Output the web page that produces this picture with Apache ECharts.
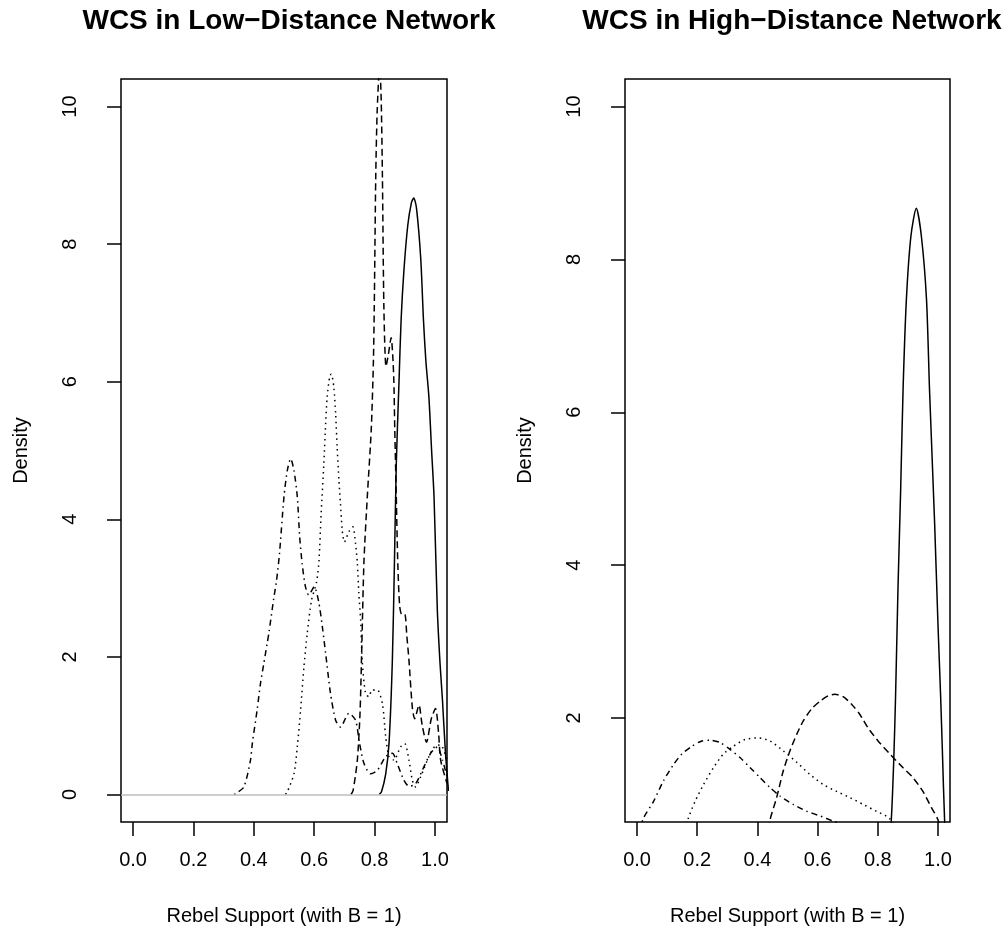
<!DOCTYPE html>
<html>
<head>
<meta charset="utf-8">
<script src="https://cdn.jsdelivr.net/npm/echarts@6/dist/echarts.min.js"></script>
<style>
html,body{margin:0;padding:0;background:#fff;}
#c{width:1003px;height:942px;}
</style>
</head>
<body>
<div id="c"></div>
<script>
// ---- data (x = rebel support, y = density) ----
const titles = ['WCS in Low\u2212Distance Network', 'WCS in High\u2212Distance Network'];
const xTicks = [0, 0.2, 0.4, 0.6, 0.8, 1.0];
const yTicksLow = [0, 2, 4, 6, 8, 10];
const yTicksHigh = [2, 4, 6, 8, 10];

const lowSolid = [[0.815,0],[0.823,0.04],[0.837,0.3],[0.848,0.75],[0.859,1.95],[0.866,3.4],[0.872,4.81],[0.881,6.0],[0.888,6.9],[0.897,7.6],[0.91,8.27],[0.922,8.6],[0.93,8.67],[0.939,8.52],[0.953,7.79],[0.962,6.9],[0.97,6.3],[0.98,5.78],[0.989,5.0],[0.997,4.33],[1.008,2.68],[1.017,1.9],[1.025,1.37],[1.035,0.6],[1.045,0.05]];
const lowDashed = [[0.722,0],[0.729,0.06],[0.743,0.5],[0.752,1.2],[0.758,2.2],[0.765,3.4],[0.776,4.33],[0.789,5.3],[0.796,6.26],[0.799,7.06],[0.804,9.0],[0.809,9.97],[0.817,10.6],[0.822,10.1],[0.826,9.0],[0.831,7.06],[0.838,6.22],[0.846,6.4],[0.855,6.64],[0.86,6.4],[0.864,6.0],[0.867,5.3],[0.872,4.33],[0.877,3.36],[0.883,2.75],[0.89,2.62],[0.9,2.62],[0.907,2.3],[0.914,1.95],[0.925,1.27],[0.933,1.1],[0.947,1.3],[0.958,1.0],[0.972,0.76],[0.988,1.1],[1.002,1.25],[1.012,0.9],[1.019,0.5],[1.04,0.16]];
const lowDotted = [[0.505,0],[0.511,0.04],[0.533,0.3],[0.544,0.69],[0.555,1.23],[0.566,1.85],[0.577,2.34],[0.591,2.82],[0.608,3.09],[0.616,3.41],[0.623,4.08],[0.632,4.81],[0.638,5.39],[0.643,5.78],[0.652,6.09],[0.657,6.11],[0.665,5.92],[0.671,5.54],[0.676,5.05],[0.682,4.57],[0.687,4.23],[0.693,3.84],[0.70,3.67],[0.715,3.82],[0.728,3.89],[0.737,3.65],[0.743,3.36],[0.748,2.92],[0.754,2.53],[0.759,1.95],[0.77,1.47],[0.781,1.42],[0.792,1.52],[0.809,1.52],[0.826,1.32],[0.837,0.84],[0.848,0.55],[0.864,0.5],[0.886,0.69],[0.9,0.74],[0.914,0.5],[0.925,0.21],[0.936,0.11],[0.953,0.26],[0.98,0.55],[1.0,0.7],[1.019,0.72],[1.04,0.5]];
const lowDotDash = [[0.335,0],[0.339,0.01],[0.367,0.11],[0.389,0.5],[0.395,0.74],[0.411,1.23],[0.422,1.61],[0.433,1.9],[0.444,2.19],[0.45,2.35],[0.466,2.85],[0.475,3.1],[0.485,3.5],[0.5,4.33],[0.511,4.71],[0.522,4.88],[0.533,4.71],[0.544,4.33],[0.552,3.74],[0.56,3.36],[0.571,3.02],[0.582,2.9],[0.6,3.02],[0.615,2.8],[0.627,2.44],[0.638,2.05],[0.654,1.47],[0.671,1.08],[0.687,0.98],[0.715,1.18],[0.737,1.08],[0.75,0.75],[0.765,0.45],[0.787,0.3],[0.809,0.35],[0.837,0.55],[0.859,0.6],[0.875,0.45],[0.897,0.21],[0.914,0.12],[0.935,0.15],[0.958,0.35],[0.986,0.6],[1.008,0.69],[1.025,0.5],[1.04,0.26]];

const highSolid = [[0.835,0.2],[0.845,0.67],[0.853,1.44],[0.859,2.27],[0.867,3.67],[0.876,4.98],[0.884,6.29],[0.895,7.47],[0.91,8.3],[0.928,8.67],[0.945,8.3],[0.962,7.47],[0.972,6.29],[0.989,4.54],[1.0,3.23],[1.009,2.27],[1.015,1.53],[1.022,0.67],[1.03,0.2]];
const highDashed = [[0.43,0.4],[0.442,0.67],[0.464,0.96],[0.486,1.31],[0.508,1.57],[0.531,1.79],[0.552,1.96],[0.58,2.12],[0.608,2.22],[0.635,2.29],[0.657,2.31],[0.685,2.28],[0.713,2.18],[0.74,2.05],[0.768,1.87],[0.801,1.70],[0.84,1.53],[0.884,1.35],[0.917,1.22],[0.95,1.04],[0.978,0.83],[1.0,0.67],[1.015,0.45]];
const highDotted = [[0.15,0.4],[0.171,0.695],[0.193,0.91],[0.221,1.13],[0.254,1.35],[0.287,1.53],[0.32,1.63],[0.359,1.72],[0.403,1.74],[0.442,1.70],[0.486,1.57],[0.531,1.42],[0.575,1.26],[0.619,1.13],[0.663,1.04],[0.707,0.96],[0.751,0.87],[0.796,0.78],[0.838,0.69],[0.87,0.5]];
const highDotDash = [[0.0,0.45],[0.022,0.695],[0.055,0.91],[0.088,1.18],[0.121,1.39],[0.149,1.53],[0.182,1.63],[0.215,1.70],[0.243,1.71],[0.276,1.68],[0.309,1.59],[0.343,1.48],[0.376,1.35],[0.409,1.22],[0.442,1.09],[0.475,0.98],[0.519,0.87],[0.564,0.78],[0.608,0.72],[0.652,0.65],[0.7,0.58]];

// ---- chart ----
const FONT = '"Liberation Sans", Arial, Helvetica, sans-serif';
const chart = echarts.init(document.getElementById('c'), null, {renderer: 'canvas'});

function xAxisDef(gi) {
  return {
    type: 'value', gridIndex: gi, min: -0.04, max: 1.04,
    name: 'Rebel Support (with B = 1)', nameLocation: 'middle', nameGap: 84,
    nameTextStyle: {fontFamily: FONT, fontSize: 20, color: '#000'},
    axisLine: {show: false, onZero: false},
    axisTick: {show: true, inside: false, length: 14, lineStyle: {color: '#000', width: 1.5}, customValues: xTicks},
    axisLabel: {show: true, margin: 28, fontFamily: FONT, fontSize: 20, color: '#000', customValues: xTicks,
      formatter: v => Number(v).toFixed(1)},
    splitLine: {show: false}
  };
}
function yAxisDef(gi, min, max, ticks) {
  return {
    type: 'value', gridIndex: gi, min: min, max: max,
    name: 'Density', nameLocation: 'middle', nameGap: 90, nameRotate: 90,
    nameTextStyle: {fontFamily: FONT, fontSize: 20, color: '#000'},
    axisLine: {show: false, onZero: false},
    axisTick: {show: true, inside: false, length: 14, lineStyle: {color: '#000', width: 1.5}, customValues: ticks},
    axisLabel: {show: true, rotate: 90, margin: 41, fontFamily: FONT, fontSize: 20, color: '#000', customValues: ticks,
      formatter: v => String(v)},
    splitLine: {show: false}
  };
}
function curve(name, data, gi, dash) {
  return {
    name: name, type: 'line', xAxisIndex: gi, yAxisIndex: gi, data: data,
    showSymbol: false, symbol: 'none', smooth: 0.25, clip: true, silent: true,
    lineStyle: {color: '#000', width: 1.5, type: dash},
    z: 3
  };
}

const option = {
  animation: false,
  backgroundColor: '#fff',
  title: [
    {text: titles[0], left: 284, top: 2, textAlign: 'center',
     textStyle: {fontFamily: FONT, fontSize: 28, fontWeight: 'bold', color: '#000'}},
    {text: titles[1], left: 787, top: 2, textAlign: 'center',
     textStyle: {fontFamily: FONT, fontSize: 28, fontWeight: 'bold', color: '#000'}}
  ],
  grid: [
    {left: 121, top: 79, width: 326, height: 743, show: true, borderColor: '#000', borderWidth: 1.5, backgroundColor: 'transparent', containLabel: false},
    {left: 625, top: 79, width: 325, height: 743, show: true, borderColor: '#000', borderWidth: 1.5, backgroundColor: 'transparent', containLabel: false}
  ],
  xAxis: [xAxisDef(0), xAxisDef(1)],
  yAxis: [yAxisDef(0, -0.4, 10.4, yTicksLow), yAxisDef(1, 0.64, 10.36, yTicksHigh)],
  series: [
    Object.assign(curve('solid', lowSolid, 0, 'solid'), {
      markLine: {silent: true, symbol: 'none', label: {show: false}, animation: false,
        lineStyle: {color: '#bebebe', type: 'solid', width: 1.5}, data: [{yAxis: 0}]}
    }),
    curve('dashed', lowDashed, 0, [7, 4]),
    curve('dotted', lowDotted, 0, [1.5, 4]),
    curve('dotdash', lowDotDash, 0, [1.5, 4, 6, 4]),
    curve('solid', highSolid, 1, 'solid'),
    curve('dashed', highDashed, 1, [7, 4]),
    curve('dotted', highDotted, 1, [1.5, 4]),
    curve('dotdash', highDotDash, 1, [1.5, 4, 6, 4])
  ]
};
chart.setOption(option);
</script>
</body>
</html>
